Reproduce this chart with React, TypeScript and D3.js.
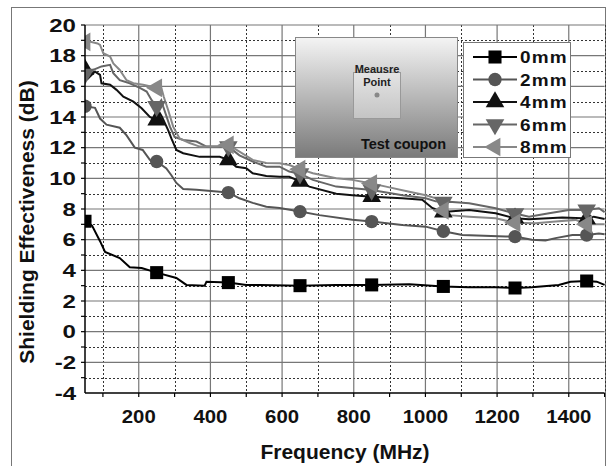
import React, { useEffect, useRef } from 'react';
import * as d3 from 'd3';

// readings, [frequency MHz, SE dB]
const se0mm: [number, number][] = [
  [50, 7.2], [60, 7.1], [70, 6.9], [92, 5.9], [106, 5.2], [147, 4.8], [175, 4.2], [208, 4.15],
  [250, 3.85], [305, 3.5], [333, 3.05], [384, 3.0], [389, 3.26], [450, 3.2], [500, 3.05],
  [540, 3.05], [650, 3.0], [750, 3.05], [850, 3.05], [955, 3.1], [1050, 2.95], [1120, 2.9],
  [1196, 2.9], [1250, 2.85], [1297, 2.9], [1372, 3.05], [1405, 3.26], [1450, 3.3], [1478, 3.26],
  [1500, 3.05],
];
const se2mm: [number, number][] = [
  [50, 14.7], [78, 14.6], [92, 13.9], [110, 13.5], [147, 13.3], [166, 12.8], [189, 12.0],
  [211, 11.85], [231, 11.2], [250, 11.1], [277, 10.65], [291, 10.2], [305, 9.7], [324, 9.3],
  [361, 9.25], [426, 9.13], [450, 9.07], [481, 8.7], [518, 8.4], [556, 8.15], [593, 8.07],
  [650, 7.83], [704, 7.6], [796, 7.3], [850, 7.18], [935, 6.96], [1001, 6.85], [1050, 6.55],
  [1103, 6.3], [1224, 6.2], [1250, 6.2], [1297, 6.0], [1335, 5.94], [1363, 6.1], [1410, 6.3],
  [1450, 6.3], [1484, 6.4], [1500, 6.35],
];
const se4mm: [number, number][] = [
  [50, 17.1], [58, 16.5], [78, 16.96], [92, 16.75], [96, 16.2], [120, 16.1], [138, 15.77],
  [157, 15.33], [185, 15.0], [208, 14.57], [231, 14.0], [250, 13.8], [259, 14.25], [265, 14.0],
  [282, 13.15], [291, 12.6], [305, 11.85], [324, 11.64], [370, 11.4], [426, 11.4], [450, 11.2],
  [472, 10.76], [500, 10.66], [518, 10.33], [556, 10.15], [593, 10.1], [620, 10.1], [650, 9.8],
  [676, 9.46], [751, 9.0], [796, 8.9], [850, 8.8], [935, 8.7], [991, 8.6], [1019, 8.07],
  [1050, 7.8], [1066, 7.83], [1122, 7.94], [1196, 7.72], [1250, 7.4], [1289, 7.33], [1382, 7.44],
  [1438, 7.4], [1450, 7.35], [1470, 7.5], [1500, 7.35],
];
const se6mm: [number, number][] = [
  [50, 16.8], [73, 17.07], [96, 17.3], [120, 17.4], [129, 16.86], [147, 16.4], [175, 16.2],
  [203, 15.9], [222, 15.66], [236, 15.1], [250, 14.7], [263, 15.1], [268, 14.7], [287, 13.37],
  [300, 12.7], [324, 12.5], [361, 12.4], [389, 12.07], [450, 12.07], [481, 11.5], [518, 11.1],
  [556, 10.76], [593, 10.76], [620, 10.44], [650, 10.3], [686, 9.9], [751, 9.46], [850, 9.24],
  [936, 8.9], [1001, 8.7], [1029, 8.5], [1050, 8.45], [1066, 8.48], [1122, 8.37], [1196, 8.05],
  [1250, 7.7], [1289, 7.5], [1345, 7.72], [1400, 7.94], [1450, 7.94], [1484, 8.05], [1500, 7.8],
];
const se8mm: [number, number][] = [
  [50, 18.9], [65, 18.9], [85, 18.8], [92, 18.7], [101, 18.16], [120, 17.94], [129, 17.5],
  [147, 17.07], [166, 16.4], [185, 16.2], [212, 16.1], [231, 16.0], [250, 15.9], [263, 15.9],
  [270, 15.3], [282, 14.46], [296, 13.37], [314, 12.6], [342, 12.3], [370, 12.07], [420, 12.1],
  [450, 12.18], [481, 11.74], [518, 11.2], [556, 11.0], [593, 10.98], [620, 10.87], [650, 10.6],
  [686, 10.33], [751, 10.0], [796, 9.9], [850, 9.66], [890, 9.46], [955, 9.13], [1001, 8.9],
  [1029, 8.7], [1050, 7.9], [1066, 7.6], [1122, 7.5], [1196, 7.4], [1250, 7.1], [1308, 7.07],
  [1363, 7.18], [1419, 7.29], [1450, 7.0], [1500, 7.0],
];

const seriesNames = ['0mm', '2mm', '4mm', '6mm', '8mm'];
const seriesData = [se0mm, se2mm, se4mm, se6mm, se8mm];
const markerFreqs = [50, 250, 450, 650, 850, 1050, 1250, 1450];
const yTicks = [-4, -2, 0, 2, 4, 6, 8, 10, 12, 14, 16, 18, 20];
const xTicks = [200, 400, 600, 800, 1000, 1200, 1400];

const colors = ['#000', '#555', '#111', '#666', '#888'];
const symbols = [d3.symbolSquare, d3.symbolCircle, d3.symbolTriangle, d3.symbolTriangle, d3.symbolTriangle];
const rotations = [0, 0, 0, 180, -90];
const symSizes = [170, 140, 150, 150, 150];

const App = () => {
  const ref = useRef<SVGSVGElement>(null);

  useEffect(() => {
    const svg = d3.select(ref.current);
    svg.selectAll('*').remove();
    const left = 85, right = 604.6, top = 25, bottom = 393;
    const font = 'Liberation Sans, Arial, sans-serif';

    const x = d3.scaleLinear().domain([50, 1500]).range([left, right]);
    const y = d3.scaleLinear().domain([-4, 20]).range([bottom, top]);

    svg.append('rect').attr('x', 11.5).attr('y', 7.5).attr('width', 594).attr('height', 480)
      .attr('fill', 'white').attr('stroke', '#777');

    const defs = svg.append('defs');
    defs.append('clipPath').attr('id', 'plotclip').append('rect')
      .attr('x', left).attr('y', top - 5).attr('width', right - left + 2).attr('height', bottom - top + 5);
    const grad = defs.append('linearGradient').attr('id', 'coupon').attr('x1', 0).attr('y1', 0).attr('x2', 0).attr('y2', 1);
    grad.append('stop').attr('offset', '0%').attr('stop-color', '#f4f4f4');
    grad.append('stop').attr('offset', '100%').attr('stop-color', '#7a7a7a');
    const grad2 = defs.append('linearGradient').attr('id', 'pad').attr('x1', 0).attr('y1', 0).attr('x2', 0).attr('y2', 1);
    grad2.append('stop').attr('offset', '0%').attr('stop-color', '#e4e4e4');
    grad2.append('stop').attr('offset', '100%').attr('stop-color', '#c4c4c4');

    // grid
    const grid = svg.append('g');
    d3.range(-3, 20, 2).forEach((v) => {
      grid.append('line').attr('x1', left).attr('x2', right).attr('y1', Math.round(y(v)) + 0.5).attr('y2', Math.round(y(v)) + 0.5)
        .attr('stroke', '#333').attr('stroke-dasharray', '2,2');
    });
    d3.range(100, 1501, 200).forEach((v) => {
      grid.append('line').attr('y1', top).attr('y2', bottom).attr('x1', Math.round(x(v)) + 0.5).attr('x2', Math.round(x(v)) + 0.5)
        .attr('stroke', '#333').attr('stroke-dasharray', '2,2');
    });
    yTicks.filter((v) => v > -4).forEach((v) => {
      grid.append('line').attr('x1', left).attr('x2', right).attr('y1', y(v)).attr('y2', y(v))
        .attr('stroke', '#777').attr('stroke-width', 1.2);
    });
    xTicks.forEach((v) => {
      grid.append('line').attr('y1', top).attr('y2', bottom).attr('x1', x(v)).attr('x2', x(v))
        .attr('stroke', '#777').attr('stroke-width', 1.2);
    });

    // inset picture of the coupon
    const inset = svg.append('g');
    inset.append('rect').attr('x', 295.5).attr('y', 37.5).attr('width', 162).attr('height', 120)
      .attr('fill', 'url(#coupon)').attr('stroke', '#888');
    inset.append('rect').attr('x', 353.5).attr('y', 72.5).attr('width', 47).attr('height', 46)
      .attr('fill', 'url(#pad)').attr('stroke', '#999');
    inset.append('text').attr('x', 377).attr('y', 73).attr('text-anchor', 'middle')
      .attr('font-family', font).attr('font-weight', 'bold').attr('font-size', 11).attr('fill', '#222').text('Meausre');
    inset.append('text').attr('x', 377).attr('y', 86).attr('text-anchor', 'middle')
      .attr('font-family', font).attr('font-weight', 'bold').attr('font-size', 11).attr('fill', '#222').text('Point');
    inset.append('circle').attr('cx', 377).attr('cy', 95).attr('r', 2.5).attr('fill', '#888');
    inset.append('text').attr('x', 446).attr('y', 149).attr('text-anchor', 'end')
      .attr('font-family', font).attr('font-weight', 'bold').attr('font-size', 14.5).attr('fill', '#111').text('Test coupon');

    // legend box
    const lg = svg.append('g');
    lg.append('rect').attr('x', 463.5).attr('y', 42.5).attr('width', 107).attr('height', 115)
      .attr('fill', 'white').attr('stroke', '#777');

    // series
    const line = d3.line<[number, number]>().x((d) => x(d[0])).y((d) => y(d[1]));
    const plot = svg.append('g').attr('clip-path', 'url(#plotclip)');
    seriesData.forEach((data, i) => {
      plot.append('path').datum(data).attr('d', line).attr('fill', 'none')
        .attr('stroke', colors[i]).attr('stroke-width', 2);
    });
    seriesData.forEach((data, i) => {
      const sym = d3.symbol().type(symbols[i]).size(symSizes[i]);
      plot.selectAll(null).data(data.filter((d) => markerFreqs.includes(d[0]))).enter()
        .append('path').attr('d', sym)
        .attr('transform', (d) => `translate(${x(d[0])},${y(d[1])}) rotate(${rotations[i]})`)
        .attr('fill', colors[i]);
    });

    // legend entries
    seriesNames.forEach((name, i) => {
      const cy = 57 + i * 22.5;
      lg.append('line').attr('x1', 473).attr('x2', 517).attr('y1', cy).attr('y2', cy)
        .attr('stroke', colors[i]).attr('stroke-width', 2);
      lg.append('path').attr('d', d3.symbol().type(symbols[i]).size(symSizes[i])())
        .attr('transform', `translate(495,${cy}) rotate(${rotations[i]})`).attr('fill', colors[i]);
      lg.append('text').attr('transform', `translate(520,${cy + 6}) scale(1.15,1)`).attr('font-family', font)
        .attr('font-weight', 'bold').attr('font-size', 16.5).attr('letter-spacing', 1).attr('fill', '#111').text(name);
    });

    // axes
    const ax = svg.append('g').attr('font-family', font);
    ax.append('line').attr('x1', left).attr('x2', left).attr('y1', top).attr('y2', bottom).attr('stroke', '#000').attr('stroke-width', 1.5);
    ax.append('line').attr('x1', left).attr('x2', right).attr('y1', bottom).attr('y2', bottom).attr('stroke', '#000').attr('stroke-width', 1.5);
    d3.range(-3, 20, 1).concat([20]).forEach((v) => {
      ax.append('line').attr('x1', left - 4).attr('x2', left).attr('y1', y(v)).attr('y2', y(v)).attr('stroke', '#000').attr('stroke-width', 1.2);
    });
    d3.range(100, 1501, 100).forEach((v) => {
      ax.append('line').attr('x1', x(v)).attr('x2', x(v)).attr('y1', bottom).attr('y2', bottom + 4).attr('stroke', '#000').attr('stroke-width', 1.2);
    });
    yTicks.forEach((v) => {
      ax.append('text').attr('transform', `translate(76,${y(v) + 6.5}) scale(1.3,1)`).attr('text-anchor', 'end')
        .attr('font-weight', 'bold').attr('font-size', 18.5).attr('fill', '#111').text(v);
    });
    xTicks.forEach((v) => {
      ax.append('text').attr('transform', `translate(${x(v)},423) scale(1.1,1)`).attr('text-anchor', 'middle')
        .attr('font-weight', 'bold').attr('font-size', 18.5).attr('fill', '#111').text(v);
    });
    ax.append('text').attr('transform', 'translate(34,222) rotate(-90)').attr('text-anchor', 'middle')
      .attr('font-weight', 'bold').attr('font-size', 21).attr('fill', '#111').text('Shielding Effectiveness (dB)');
    ax.append('text').attr('x', 345).attr('y', 459).attr('text-anchor', 'middle')
      .attr('font-weight', 'bold').attr('font-size', 21).attr('fill', '#111').text('Frequency (MHz)');
  }, []);

  return (
    <svg ref={ref} width={614} height={466} style={{ position: 'absolute', left: 0, top: 0 }} />
  );
};

export default App;
